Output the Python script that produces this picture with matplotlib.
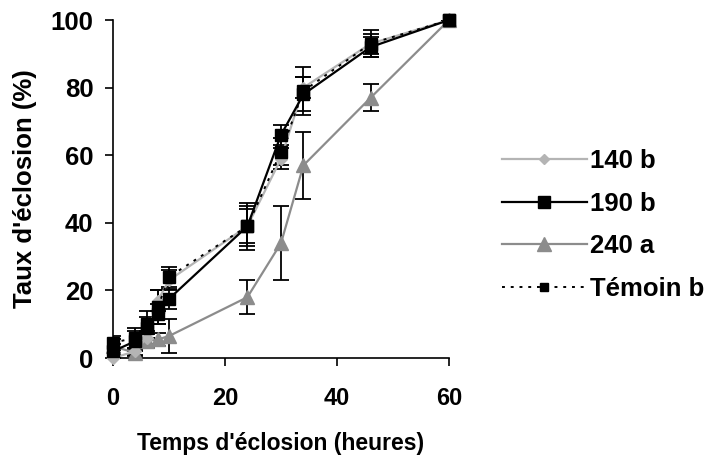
import matplotlib.pyplot as plt
from matplotlib.lines import Line2D

heures = [0, 4, 6, 8, 10, 24, 30, 34, 46, 60]

s140 = [0, 2, 6, 17, 23, 39, 59, 80, 93, 100]
s190 = [2, 5, 9, 13, 17.5, 39, 66, 78, 92, 100]
s240 = [3.5, 1.5, 5, 5.5, 6.5, 18, 34, 57, 77, 100]
temoin = [4.5, 6, 10, 15, 24, 39, 61, 79, 93, 100]

e140 = [1, 1, 2, 3, 3, 5, 3, 3, 3, 0]
e190 = [2, 3, 3, 3, 3, 6, 3, 5, 3, 0]
e240 = [2, 1, 2, 2, 5, 5, 11, 10, 4, 0]
etem = [2, 3, 4, 5, 3, 7, 4, 7, 4, 0]

noms = ['140 b', '190 b', '240 a', 'Témoin b']

plt.rcParams['font.family'] = ['Liberation Sans', 'DejaVu Sans']
plt.rcParams['font.weight'] = 'bold'

fig = plt.figure(figsize=(7.08, 4.59), dpi=100)
ax = fig.add_axes([0.1596, 0.22, 0.4746, 0.7364])

gris_clair = '#b4b4b4'
gris = '#8c8c8c'

kw_err = dict(ecolor='black', elinewidth=1.3, capsize=6, capthick=1.3, zorder=2)
ax.errorbar(heures, s140, yerr=e140, fmt='none', **kw_err)
ax.errorbar(heures, s190, yerr=e190, fmt='none', **kw_err)
ax.errorbar(heures, s240, yerr=e240, fmt='none', **kw_err)
ax.errorbar(heures, temoin, yerr=etem, fmt='none', **kw_err)

ax.plot(heures, s240, color=gris, lw=1.6, marker='^', ms=10, mec=gris, clip_on=False, zorder=3)
ax.plot(heures, s140, color=gris_clair, lw=1.6, marker='D', ms=6, mec=gris_clair, clip_on=False, zorder=4)
ax.plot(heures, temoin, color='black', lw=1.4, ls=(0, (1.5, 3)), marker='s', ms=8, clip_on=False, zorder=5)
ax.plot(heures, s190, color='black', lw=1.6, marker='s', ms=9, clip_on=False, zorder=6)

ax.set_xlim(0, 60)
ax.set_ylim(0, 100)
ax.set_xticks([0, 20, 40, 60])
ax.set_yticks([0, 20, 40, 60, 80, 100])
for s in ['top', 'right']:
    ax.spines[s].set_visible(False)
for s in ['left', 'bottom']:
    ax.spines[s].set_linewidth(1.2)
ax.tick_params(direction='out', length=6, width=1.2)
ax.tick_params(axis='y', labelsize=18.5, pad=8)
ax.tick_params(axis='x', labelsize=17, pad=15)

ax.set_xlabel("Temps d'éclosion (heures)", fontsize=16.5, fontweight='bold', labelpad=16)
ax.set_ylabel("Taux d'éclosion (%)", fontsize=18.5, fontweight='bold', labelpad=10)

handles = [
    Line2D([], [], color=gris_clair, lw=1.6, marker='D', ms=5, mec=gris_clair),
    Line2D([], [], color='black', lw=1.6, marker='s', ms=9),
    Line2D([], [], color=gris, lw=1.6, marker='^', ms=10, mec=gris),
    Line2D([], [], color='black', lw=1.4, ls=(0, (1.5, 3)), marker='s', ms=6),
]
fig.legend(handles, noms, loc='center left', bbox_to_anchor=(0.676, 0.51),
           frameon=False, handlelength=3.3, labelspacing=0.72,
           handletextpad=0.15, prop={'weight': 'bold', 'size': 18.5})

fig.savefig('out.png', dpi=100)
